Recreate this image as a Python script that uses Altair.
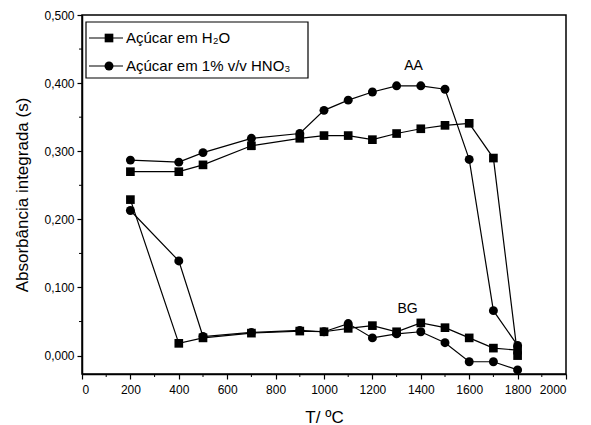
import altair as alt
import pandas as pd

temps = [200, 400, 500, 700, 900, 1000, 1100, 1200, 1300, 1400, 1500, 1600, 1700, 1800]
aa_h2o = [0.270, 0.270, 0.280, 0.308, 0.319, 0.323, 0.323, 0.317, 0.326, 0.333, 0.338, 0.341, 0.290, 0.000]
aa_hno3 = [0.287, 0.284, 0.298, 0.319, 0.326, 0.360, 0.375, 0.387, 0.396, 0.396, 0.391, 0.288, 0.066, 0.015]
bg_h2o = [0.229, 0.018, 0.026, 0.033, 0.036, 0.035, 0.040, 0.044, 0.035, 0.048, 0.041, 0.026, 0.011, 0.008]
bg_hno3 = [0.213, 0.139, 0.028, 0.034, 0.037, 0.035, 0.047, 0.026, 0.032, 0.035, 0.019, -0.009, -0.009, -0.021]

series_names = ["Açúcar em H₂O", "Açúcar em 1% v/v HNO₃"]
curve_labels = ["AA", "BG"]
label_pos_t = [1370, 1345]
label_pos_v = [0.425, 0.068]

x_major = [0, 200, 400, 600, 800, 1000, 1200, 1400, 1600, 1800, 2000]
x_minor = [100, 300, 500, 700, 900, 1100, 1300, 1500, 1700, 1900]
y_major = [0.0, 0.1, 0.2, 0.3, 0.4, 0.5]
y_minor = [0.05, 0.15, 0.25, 0.35, 0.45]

rows = []
for curve, s_idx, vals in [("AA", 0, aa_h2o), ("AA", 1, aa_hno3), ("BG", 0, bg_h2o), ("BG", 1, bg_hno3)]:
    for t, v in zip(temps, vals):
        rows.append({"T": t, "v": v, "serie": series_names[s_idx], "key": curve + str(s_idx)})
df = pd.DataFrame(rows)

W, H = 484, 359
FONT = "Liberation Sans"
xs = alt.Scale(domain=[0, 2000], nice=False)
ys = alt.Scale(domain=[-0.027, 0.5], nice=False)
shape_scale = alt.Scale(domain=series_names, range=["square", "circle"])

base = alt.Chart(df)
lines = base.mark_line(color="black", strokeWidth=1.2).encode(
    x=alt.X("T:Q", scale=xs,
            axis=alt.Axis(values=x_major, format="d", title="T/ ºC", tickSize=5,
                          labelPadding=5, titlePadding=14)),
    y=alt.Y("v:Q", scale=ys,
            axis=alt.Axis(values=y_major, labelExpr="replace(format(datum.value, '.3f'), '.', ',')",
                          title="Absorbância integrada (s)", tickSize=5, labelPadding=3,
                          titlePadding=12)),
    detail="key:N",
    order="T:Q",
)
points = base.mark_point(filled=True, color="black", opacity=1).encode(
    x=alt.X("T:Q", scale=xs),
    y=alt.Y("v:Q", scale=ys),
    shape=alt.Shape("serie:N", scale=shape_scale, legend=None),
    size=alt.Size("serie:N", scale=alt.Scale(domain=series_names, range=[75, 80]), legend=None),
)

xminor = alt.Chart(pd.DataFrame({"t": x_minor})).mark_rule(color="black", strokeWidth=1).encode(
    x=alt.X("t:Q", scale=xs), y=alt.value(H), y2=alt.value(H + 3))
yminor = alt.Chart(pd.DataFrame({"v": y_minor})).mark_rule(color="black", strokeWidth=1).encode(
    y=alt.Y("v:Q", scale=ys), x=alt.value(0), x2=alt.value(-3))

labels = alt.Chart(pd.DataFrame({"t": label_pos_t, "v": label_pos_v, "lab": curve_labels})).mark_text(
    font=FONT, fontSize=14, color="black", align="center", baseline="middle").encode(
    x=alt.X("t:Q", scale=xs), y=alt.Y("v:Q", scale=ys), text="lab:N")

# legend box
leg_box = alt.Chart(pd.DataFrame({"a": [0]})).mark_rect(fill="white", stroke="black", strokeWidth=1.2).encode(
    x=alt.value(4), x2=alt.value(226), y=alt.value(7), y2=alt.value(63))
leg_layers = [leg_box]
for i, (name, shp) in enumerate(zip(series_names, ["square", "circle"])):
    yy = 23 + 28 * i
    d = pd.DataFrame({"name": [name]})
    leg_layers.append(alt.Chart(d).mark_rule(color="black", strokeWidth=1.2).encode(
        x=alt.value(7), x2=alt.value(41), y=alt.value(yy)))
    leg_layers.append(alt.Chart(d).mark_point(shape=shp, filled=True, color="black", opacity=1,
                                              size=75 if shp == "square" else 80).encode(
        x=alt.value(27), y=alt.value(yy)))
    leg_layers.append(alt.Chart(d).mark_text(font=FONT, fontSize=15, color="black", align="left",
                                             baseline="middle").encode(
        x=alt.value(44), y=alt.value(yy), text="name:N"))

chart = alt.layer(lines, points, xminor, yminor, labels, *leg_layers).properties(
    width=W, height=H, background="white",
    padding={"left": 5, "top": 1, "right": 5, "bottom": 5}
).configure_view(stroke="black", strokeWidth=1.5).configure_axis(
    grid=False, domainColor="black", domainWidth=1.5, tickColor="black", tickWidth=1.2,
    labelColor="black", titleColor="black", labelFont=FONT, titleFont=FONT,
    labelFontSize=12, titleFontSize=17, titleFontWeight="normal"
)

chart.save("out.html", embed_options={"renderer": "svg", "actions": False})
